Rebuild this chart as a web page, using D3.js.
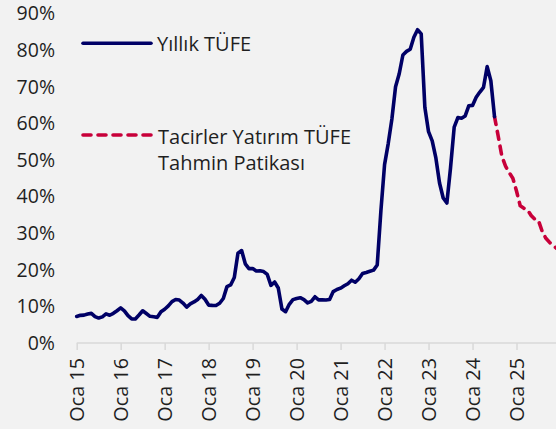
<!DOCTYPE html>
<html>
<head>
<meta charset="utf-8">
<script src="https://cdn.jsdelivr.net/npm/d3@7"></script>
<style>
    html, body {
        margin: 0;
        padding: 0;
        background: #f2f2f2;
    }
    svg text {
        font-family: "Open Sans", "Noto Sans", sans-serif;
        fill: #1f1f1f;
    }
</style>
</head>
<body>
<svg width="556" height="429"></svg>
<script>
// yıllık TÜFE, Oca 2015 - Tem 2024 (aylık)
const tufe = [
    7.24, 7.55, 7.61, 7.91, 8.09, 7.20, 6.81, 7.14, 7.95, 7.58, 8.10, 8.81,
    9.58, 8.78, 7.46, 6.57, 6.58, 7.64, 8.79, 8.05, 7.28, 7.16, 7.00, 8.53,
    9.22, 10.13, 11.29, 11.87, 11.72, 10.90, 9.79, 10.68, 11.20, 11.90, 12.98, 11.92,
    10.35, 10.26, 10.23, 10.85, 12.15, 15.39, 15.85, 17.90, 24.52, 25.24, 21.62, 20.30,
    20.35, 19.67, 19.71, 19.50, 18.71, 15.72, 16.65, 15.01, 9.26, 8.55, 10.56, 11.84,
    12.15, 12.37, 11.86, 10.94, 11.39, 12.62, 11.76, 11.77, 11.75, 11.89, 14.03, 14.60,
    14.97, 15.61, 16.19, 17.14, 16.59, 17.53, 18.95, 19.25, 19.58, 19.89, 21.31, 36.08,
    48.69, 54.44, 61.14, 69.97, 73.50, 78.62, 79.60, 80.21, 83.45, 85.51, 84.39, 64.27,
    57.68, 55.18, 50.51, 43.68, 39.59, 38.21, 47.83, 58.94, 61.53, 61.36, 61.98, 64.77,
    64.86, 67.07, 68.50, 69.80, 75.45, 71.60, 61.78
];

// Tacirler Yatırım tahmin patikası, Tem 2024 - Ara 2025
const tahmin = [
    61.78, 56.5, 51.0, 48.3, 46.5, 45.0,
    41.5, 37.5, 36.8, 36.3, 34.8, 33.8, 33.4, 30.5, 28.6, 27.5, 26.6, 25.8
];

const yTicks = [0, 10, 20, 30, 40, 50, 60, 70, 80, 90];
const xTickLabels = ["Oca 15", "Oca 16", "Oca 17", "Oca 18", "Oca 19", "Oca 20",
    "Oca 21", "Oca 22", "Oca 23", "Oca 24", "Oca 25"];
const legendLabels = ["Yıllık TÜFE", ["Tacirler Yatırım TÜFE", "Tahmin Patikası"]];

const svg = d3.select("svg"),
    width = +svg.attr("width"),
    height = +svg.attr("height");

const blue = "#000066", red = "#c8003a";

const monthCount = xTickLabels.length * 12;
const months = d3.range(monthCount);

const x = d3.scalePoint()
    .domain(months)
    .range([76.7, 76.7 + 3.665 * (monthCount - 1)]);

const y = d3.scaleLinear()
    .domain([0, 90])
    .range([343, 13.3]);

// x ekseni
const xAxis = d3.axisBottom(x)
    .tickValues(months.filter(function (m) {
        return m % 12 === 0;
    }))
    .tickSize(7)
    .tickFormat(function (m) {
        return xTickLabels[m / 12];
    });

const xg = svg.append("g")
    .attr("transform", "translate(0," + y(0) + ")")
    .call(xAxis);

xg.select(".domain")
    .attr("d", "M" + x(0) + ",0H" + width)
    .attr("stroke", "#d9d9d9")
    .attr("stroke-width", 1.5);

xg.selectAll(".tick line")
    .attr("stroke", "#d9d9d9")
    .attr("stroke-width", 1.5);

xg.selectAll(".tick text")
    .attr("transform", "rotate(-90)")
    .attr("x", -15)
    .attr("y", 0)
    .attr("dy", "0.36em")
    .style("text-anchor", "end")
    .style("font-size", "19.8px");

// y ekseni etiketleri (çizgisiz)
svg.append("g")
    .selectAll("text")
    .data(yTicks)
    .enter().append("text")
    .attr("x", 55)
    .attr("y", function (d) {
        return y(d);
    })
    .attr("dy", "0.36em")
    .style("text-anchor", "end")
    .style("font-size", "19.5px")
    .text(function (d) {
        return d + "%";
    });

const line = d3.line()
    .x(function (d) {
        return x(d.m);
    })
    .y(function (d) {
        return y(d.v);
    });

const tufeData = tufe.map(function (v, i) {
    return {m: i, v: v};
});
const tahminStart = tufe.length - 1;
const tahminData = tahmin.map(function (v, i) {
    return {m: tahminStart + i, v: v};
});

svg.append("path")
    .datum(tahminData)
    .attr("fill", "none")
    .attr("stroke", red)
    .attr("stroke-width", 3.6)
    .attr("stroke-linecap", "round")
    .attr("stroke-dasharray", "8,7")
    .attr("d", line);

svg.append("path")
    .datum(tufeData)
    .attr("fill", "none")
    .attr("stroke", blue)
    .attr("stroke-width", 3.6)
    .attr("stroke-linejoin", "round")
    .attr("stroke-linecap", "round")
    .attr("d", line);

// lejant
const legend = svg.append("g");

legend.append("line")
    .attr("x1", 83).attr("x2", 151)
    .attr("y1", 43.3).attr("y2", 43.3)
    .attr("stroke", blue)
    .attr("stroke-width", 3.6)
    .attr("stroke-linecap", "round");

legend.append("text")
    .attr("x", 157)
    .attr("y", 50.7)
    .style("font-size", "20px")
    .text(legendLabels[0]);

legend.append("line")
    .attr("x1", 83).attr("x2", 151)
    .attr("y1", 135).attr("y2", 135)
    .attr("stroke", red)
    .attr("stroke-width", 3.6)
    .attr("stroke-linecap", "round")
    .attr("stroke-dasharray", "8,7");

legend.append("text")
    .attr("x", 158)
    .attr("y", 144)
    .style("font-size", "20px")
    .selectAll("tspan")
    .data(legendLabels[1])
    .enter().append("tspan")
    .attr("x", 158)
    .attr("dy", function (d, i) {
        return i ? 26 : 0;
    })
    .text(function (d) {
        return d;
    });
</script>
</body>
</html>
